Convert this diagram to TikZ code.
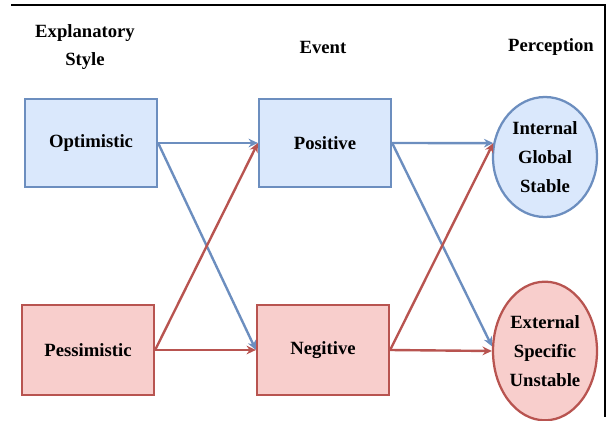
\documentclass[tikz,border=0pt]{standalone}
\usepackage{fontspec}
\setmainfont{Liberation Serif}
\usepackage{tikz}
\usetikzlibrary{shapes.geometric,arrows.meta}

\definecolor{optfill}{RGB}{218,232,252}
\definecolor{optline}{RGB}{108,142,191}
\definecolor{pesfill}{RGB}{248,206,204}
\definecolor{pesline}{RGB}{184,84,80}

\tikzset{
  goodbox/.style={draw=optline,fill=optfill,line width=1.7pt,minimum width=99pt,minimum height=66pt},
  badbox/.style={draw=pesline,fill=pesfill,line width=1.7pt,minimum width=99pt,minimum height=67pt},
  goodarrow/.style={draw=optline,line width=1.8pt,->},
  badarrow/.style={draw=pesline,line width=1.8pt,->},
  txt/.style={font=\fontsize{14}{21.5}\selectfont\bfseries,align=center}
}

\begin{document}
\begin{tikzpicture}[x=0.75pt,y=-0.75pt,>={Stealth[length=7pt,width=6.5pt]},every node/.style={txt}]
\useasboundingbox (0,0) rectangle (607,421);
\draw[black,line width=1.2pt] (11,5) -- (605,5) -- (605,417);

%Column titles
\node (style) at (85,47) {Explanatory\\Style};
\node (event) at (323,47) {Event};
\node (perc) at (551,47) {Perception};

%Explanatory styles and events
\node[goodbox] (opt) at (91,143) {Optimistic};
\node[goodbox] (pos) at (325,143) {Positive};
\node[badbox] (pes) at (88,350) {Pessimistic};
\node[badbox] (neg) at (323,350) {Negitive};

%Perceptions
\node[ellipse,draw=optline,fill=optfill,line width=1.7pt,inner sep=0pt,minimum width=78pt,minimum height=90pt] (int) at (545,157) {Internal\\Global\\Stable};
\node[ellipse,draw=pesline,fill=pesfill,line width=1.7pt,inner sep=0pt,minimum width=78pt,minimum height=104pt] (ext) at (545,351) {External\\Specific\\Unstable};

\draw[goodarrow] (opt.east) -- (pos.west);
\draw[goodarrow] (opt.east) -- (neg.west);
\draw[badarrow] (pes.east) -- (neg.west);
\draw[badarrow] (pes.east) -- (pos.west);

\draw[goodarrow] (pos.east) -- (int.165);
\draw[goodarrow] (pos.east) -- (ext.175);
\draw[badarrow] (neg.east) -- (ext.west);
\draw[badarrow] (neg.east) -- (int.165);

\end{tikzpicture}
\end{document}
